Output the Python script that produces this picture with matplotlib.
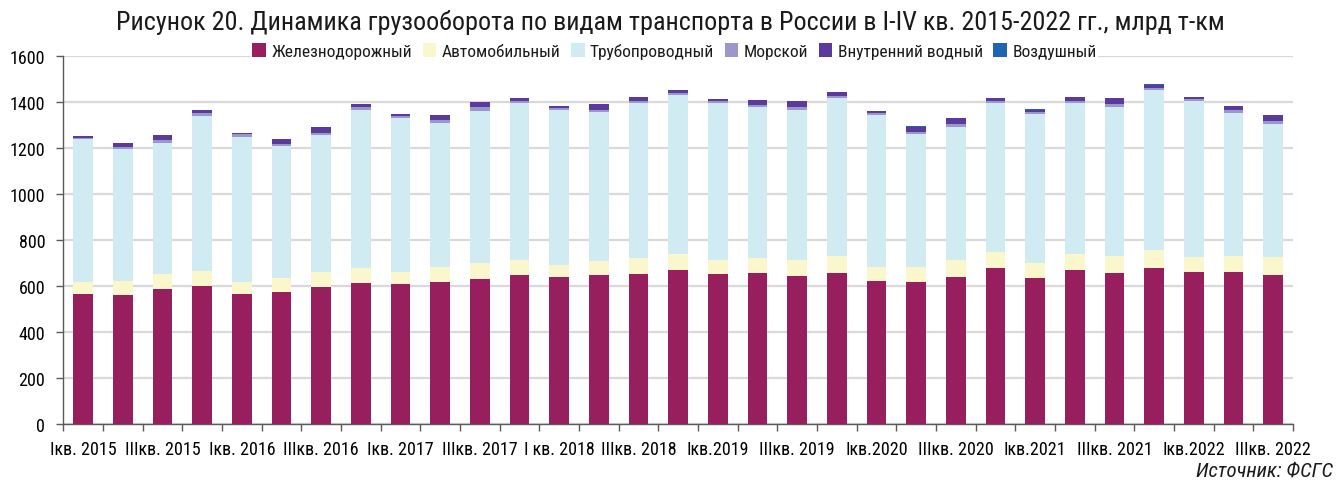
import matplotlib
matplotlib.use("Agg")

import matplotlib.pyplot as plt
import numpy as np
from matplotlib.patches import Patch

# данные, млрд т-км (оценка по рисунку)
quarter_labels = [
    "Iкв. 2015", "IIIкв. 2015", "Iкв. 2016", "IIIкв. 2016",
    "Iкв. 2017", "IIIкв. 2017", "I кв. 2018", "IIIкв. 2018",
    "Iкв.2019", "IIIкв. 2019", "Iкв.2020", "IIIкв. 2020",
    "Iкв.2021", "IIIкв. 2021", "Iкв.2022", "IIIкв. 2022",
]
rail = [564, 561, 584, 600, 565, 574, 593, 612, 609, 617,
        630, 645, 638, 645, 652, 668, 652, 655, 641, 655,
        622, 616, 639, 677, 636, 668, 657, 678, 661, 658, 648]
road = [52, 58, 67, 65, 51, 61, 68, 66, 53, 63,
        70, 68, 53, 64, 71, 71, 61, 68, 72, 74,
        61, 64, 74, 72, 64, 71, 73, 78, 64, 71, 78]
pipe = [623, 577, 571, 675, 633, 575, 595, 689, 668, 629,
        662, 683, 676, 649, 673, 691, 685, 654, 652, 690,
        660, 581, 580, 647, 649, 657, 648, 697, 681, 626, 580]
sea = [7, 10, 13, 12, 11, 7, 9, 11, 10, 14,
       15, 11, 8, 9, 10, 9, 8, 11, 12, 8,
       9, 11, 13, 11, 9, 8, 13, 8, 10, 10, 11]
inland = [5, 18, 22, 12, 6, 21, 28, 13, 9, 20,
          23, 13, 9, 23, 18, 13, 8, 22, 26, 16,
          9, 22, 24, 12, 10, 20, 27, 16, 8, 20, 29]
air = [0.3, 0.3, 0.3, 0.3, 0.3, 0.3, 0.3, 0.3, 0.3, 0.3,
       0.3, 0.3, 0.3, 0.3, 0.3, 0.3, 0.3, 0.3, 2.0, 0.3,
       0.3, 0.3, 0.3, 0.3, 0.3, 0.3, 2.0, 0.3, 0.3, 0.3, 0.3]

series_names = ["Железнодорожный", "Автомобильный", "Трубопроводный",
                "Морской", "Внутренний водный", "Воздушный"]
colors = ["#971F5E", "#FAF7CC", "#D0ECF2", "#9B97CC", "#5C3A9B", "#1F63B5"]

title = ("Рисунок 20. Динамика грузооборота по видам транспорта в России "
         "в I-IV кв. 2015-2022 гг., млрд т-км")

plt.rcParams["font.family"] = ["Roboto Condensed", "Liberation Sans Narrow", "Roboto", "DejaVu Sans"]
plt.rcParams["text.color"] = "#1a1a1a"

fig = plt.figure(figsize=(13.36, 4.85), dpi=100)
ax = fig.add_axes([0.0474, 0.1247, 0.9204, 0.7572])

x = np.arange(len(rail))
bottom = np.zeros(len(rail))
for vals, name, col in zip([rail, road, pipe, sea, inland, air], series_names, colors):
    ax.bar(x, vals, width=0.5, bottom=bottom, color=col, label=name, zorder=3)
    bottom += np.array(vals)

ax.set_xlim(-0.5, len(rail) - 0.5)
ax.set_ylim(0, 1600)
ax.set_yticks(np.arange(0, 1601, 200))
ax.yaxis.grid(True, color="#D9D9D9", linewidth=1.6, zorder=0)
ax.set_axisbelow(True)

ax.set_xticks(x[::2])
ax.set_xticklabels(quarter_labels)
ax.set_xticks(np.arange(-0.5, len(rail)), minor=True)
ax.tick_params(axis="x", which="major", length=0, pad=12, labelsize=13)
ax.tick_params(axis="x", which="minor", length=5, width=1, color="#595959")
ax.tick_params(axis="y", length=5, width=1, color="#595959", pad=8, labelsize=13)

for side in ["top", "right"]:
    ax.spines[side].set_visible(False)
for side in ["left", "bottom"]:
    ax.spines[side].set_color("#595959")
    ax.spines[side].set_linewidth(1)

handles = [Patch(facecolor=c) for c in colors]
leg = ax.legend(handles, series_names, loc="center", bbox_to_anchor=(0.497, 1.014),
                ncol=6, fontsize=12.5, frameon=True, facecolor="white", edgecolor="none",
                framealpha=1, handlelength=0.8, handleheight=0.8, handletextpad=0.3,
                columnspacing=0.6, borderpad=0.1, borderaxespad=0)
leg.set_zorder(5)

fig.text(0.502, 0.953, title, ha="center", va="center", fontsize=18.8)
fig.text(0.998, 0.029, "Источник: ФСГС", ha="right", va="center",
         fontsize=15, style="italic")

plt.savefig("out.png", dpi=100)
plt.close()
